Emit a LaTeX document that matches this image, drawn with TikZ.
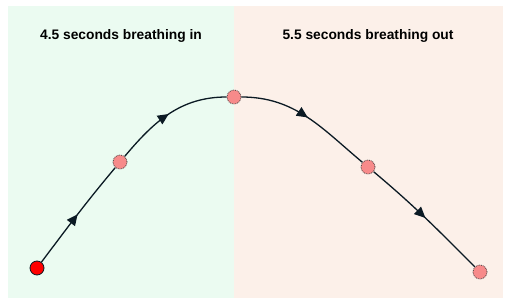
\documentclass[tikz,border=0pt]{standalone}
\usepackage{fontspec}
\setmainfont{Liberation Sans}
\usetikzlibrary{arrows.meta, decorations.markings}
\definecolor{inhale}{HTML}{EBFBF1}
\definecolor{exhale}{HTML}{FCF0E9}
\definecolor{dotpink}{HTML}{F78A8A}
\definecolor{dotred}{HTML}{FF0000}
\definecolor{curveink}{HTML}{0B1A24}

\begin{document}
\begin{tikzpicture}[
      x=1pt, y=1pt,
      every node/.style={font=\fontsize{13.8}{16}\selectfont\bfseries},
      beat/.style={circle, draw=black!75, densely dotted, line width=0.8pt,
                   fill=dotpink, minimum size=14pt, inner sep=0},
      start/.style={circle, draw=curveink, line width=0.8pt, fill=dotred,
                    minimum size=14pt, inner sep=0},
      midarrow/.style={postaction={decorate, decoration={markings,
          mark=at position 0.5 with {\arrow{Triangle[length=11pt, width=10pt]}}}}},
      breath/.style={draw=curveink, line width=1.3pt, midarrow},
    ]
    \useasboundingbox (0,0) rectangle (510,305);

    % the two phases
    \fill[inhale] (8,7) rectangle (234,299);
    \fill[exhale] (234,7) rectangle (503,299);
    \node (lin)  at (121,269) {4.5 seconds breathing in};
    \node (lout) at (368,269) {5.5 seconds breathing out};

    % points on the breath
    \node[start] (b0) at (37,37)   {};
    \node[beat]  (b1) at (120,143) {};
    \node[beat]  (b2) at (234,208) {};
    \node[beat]  (b3) at (368,138) {};
    \node[beat]  (b4) at (480,33)  {};

    \draw[breath] (b0) to[out=53, in=230] (b1);
    \draw[breath] (b1) to[out=50, in=180] (b2);
    \draw[breath] (b2) to[out=0, in=140] (b3);
    \draw[breath] (b3) to[out=-40, in=135] (b4);
  \end{tikzpicture}
\end{document}
